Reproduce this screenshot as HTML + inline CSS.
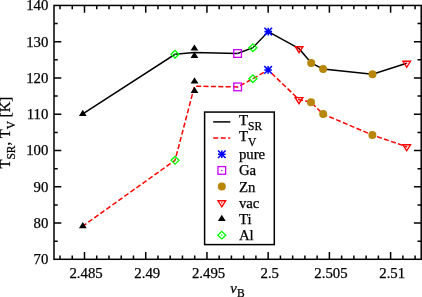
<!DOCTYPE html><html><head><meta charset="utf-8"><style>html,body{margin:0;padding:0;background:#fff;}body{width:422px;height:297px;overflow:hidden;font-family:"Liberation Serif",serif;}svg{display:block;will-change:transform;} text{stroke:#000;stroke-width:0.25px;}</style></head><body><svg width="422" height="297" viewBox="0 0 422 297">
<rect width="100%" height="100%" fill="#fff"/>
<path d="M60.00 259.30V255.60M60.00 5.45V9.15M72.24 259.30V255.60M72.24 5.45V9.15M84.49 259.30V252.00M84.49 5.45V12.75M96.73 259.30V255.60M96.73 5.45V9.15M108.98 259.30V255.60M108.98 5.45V9.15M121.22 259.30V255.60M121.22 5.45V9.15M133.47 259.30V255.60M133.47 5.45V9.15M145.72 259.30V252.00M145.72 5.45V12.75M157.96 259.30V255.60M157.96 5.45V9.15M170.20 259.30V255.60M170.20 5.45V9.15M182.45 259.30V255.60M182.45 5.45V9.15M194.69 259.30V255.60M194.69 5.45V9.15M206.94 259.30V252.00M206.94 5.45V12.75M219.18 259.30V255.60M219.18 5.45V9.15M231.43 259.30V255.60M231.43 5.45V9.15M243.68 259.30V255.60M243.68 5.45V9.15M255.92 259.30V255.60M255.92 5.45V9.15M268.16 259.30V252.00M268.16 5.45V12.75M280.41 259.30V255.60M280.41 5.45V9.15M292.65 259.30V255.60M292.65 5.45V9.15M304.90 259.30V255.60M304.90 5.45V9.15M317.14 259.30V255.60M317.14 5.45V9.15M329.39 259.30V252.00M329.39 5.45V12.75M341.64 259.30V255.60M341.64 5.45V9.15M353.88 259.30V255.60M353.88 5.45V9.15M366.12 259.30V255.60M366.12 5.45V9.15M378.37 259.30V255.60M378.37 5.45V9.15M390.61 259.30V252.00M390.61 5.45V12.75M402.86 259.30V255.60M402.86 5.45V9.15M415.10 259.30V255.60M415.10 5.45V9.15M54.00 241.17H57.70M421.20 241.17H417.50M54.00 223.04H61.30M421.20 223.04H413.90M54.00 204.90H57.70M421.20 204.90H417.50M54.00 186.77H61.30M421.20 186.77H413.90M54.00 168.64H57.70M421.20 168.64H417.50M54.00 150.51H61.30M421.20 150.51H413.90M54.00 132.38H57.70M421.20 132.38H417.50M54.00 114.24H61.30M421.20 114.24H413.90M54.00 96.11H57.70M421.20 96.11H417.50M54.00 77.98H61.30M421.20 77.98H413.90M54.00 59.85H57.70M421.20 59.85H417.50M54.00 41.72H61.30M421.20 41.72H413.90M54.00 23.58H57.70M421.20 23.58H417.50" stroke="#000" stroke-width="1.5" fill="none"/>
<rect x="54.0" y="5.45" width="367.20" height="253.85" stroke="#000" stroke-width="1.5" fill="none"/>
<g font-family="Liberation Serif" font-size="14.8" fill="#000">
<text x="48.4" y="264.10" text-anchor="end">70</text>
<text x="48.4" y="227.84" text-anchor="end">80</text>
<text x="48.4" y="191.57" text-anchor="end">90</text>
<text x="48.4" y="155.31" text-anchor="end">100</text>
<text x="48.4" y="119.04" text-anchor="end">110</text>
<text x="48.4" y="82.78" text-anchor="end">120</text>
<text x="48.4" y="46.52" text-anchor="end">130</text>
<text x="48.4" y="10.25" text-anchor="end">140</text>
<text x="86.09" y="278.3" text-anchor="middle">2.485</text>
<text x="147.32" y="278.3" text-anchor="middle">2.49</text>
<text x="208.54" y="278.3" text-anchor="middle">2.495</text>
<text x="269.76" y="278.3" text-anchor="middle">2.5</text>
<text x="330.99" y="278.3" text-anchor="middle">2.505</text>
<text x="392.21" y="278.3" text-anchor="middle">2.51</text>
</g>
<text x="230.3" y="292.6" font-family="Liberation Serif" font-size="14.8" font-style="italic">&#957;<tspan font-style="normal" font-size="11.5" dy="4.4">B</tspan></text>
<text transform="translate(10.0,168.6) rotate(-90)" font-family="Liberation Serif" font-size="14.8">T<tspan font-size="11.5" dy="4.6">SR</tspan><tspan dy="-4.6">, T</tspan><tspan font-size="11.5" dy="4.6">V</tspan><tspan dy="-4.6"> [K]</tspan></text>
<polyline points="82.80,226.10 175.05,160.30 194.50,86.20 237.65,86.90 252.90,78.75 268.10,69.90 299.00,99.60 311.00,102.30 323.20,114.10 372.40,135.00 406.70,146.75" fill="none" stroke="#f00" stroke-width="1.5" stroke-dasharray="5 2.39" stroke-dashoffset="0.6"/>
<polyline points="82.80,113.80 175.00,54.25 194.40,52.60 237.60,53.50 252.90,47.70 268.25,31.60 299.10,48.70 311.20,63.00 323.10,69.05 372.50,74.30 406.70,63.25" fill="none" stroke="#000" stroke-width="1.5"/>
<path d="M82.80 109.65L86.70 115.88L78.90 115.88Z" fill="#000"/><path d="M175.00 50.45L179.00 54.25L175.00 58.05L171.00 54.25Z" fill="none" stroke="#0f0" stroke-width="1.3"/><circle cx="175.00" cy="54.25" r="0.7" fill="#0f0"/><path d="M194.40 44.40L198.30 50.62L190.50 50.62Z" fill="#000"/><path d="M194.40 51.80L198.30 58.03L190.50 58.03Z" fill="#000"/><rect x="233.75" y="49.65" width="7.70" height="7.70" fill="none" stroke="#c0f" stroke-width="1.3"/><circle cx="237.60" cy="53.50" r="0.7" fill="#c0f"/><path d="M252.90 43.90L256.90 47.70L252.90 51.50L248.90 47.70Z" fill="none" stroke="#0f0" stroke-width="1.3"/><circle cx="252.90" cy="47.70" r="0.7" fill="#0f0"/><path d="M264.45 31.60H272.05M268.25 27.80V35.40M264.45 27.80L272.05 35.40M264.45 35.40L272.05 27.80" stroke="#00f" stroke-width="1.55" fill="none"/><path d="M299.10 52.70L302.90 46.70L295.30 46.70Z" fill="none" stroke="#f00" stroke-width="1.4"/><circle cx="299.10" cy="48.70" r="0.7" fill="#f00"/><circle cx="311.20" cy="63.00" r="4.0" fill="#b8860b"/><circle cx="323.10" cy="69.05" r="4.0" fill="#b8860b"/><circle cx="372.50" cy="74.30" r="4.0" fill="#b8860b"/><path d="M406.70 67.25L410.50 61.25L402.90 61.25Z" fill="none" stroke="#f00" stroke-width="1.4"/><circle cx="406.70" cy="63.25" r="0.7" fill="#f00"/><path d="M82.80 221.95L86.70 228.17L78.90 228.17Z" fill="#000"/><path d="M175.05 156.50L179.05 160.30L175.05 164.10L171.05 160.30Z" fill="none" stroke="#0f0" stroke-width="1.3"/><circle cx="175.05" cy="160.30" r="0.7" fill="#0f0"/><path d="M194.50 77.35L198.40 83.58L190.60 83.58Z" fill="#000"/><path d="M194.50 86.70L198.40 92.92L190.60 92.92Z" fill="#000"/><rect x="233.80" y="83.05" width="7.70" height="7.70" fill="none" stroke="#c0f" stroke-width="1.3"/><circle cx="237.65" cy="86.90" r="0.7" fill="#c0f"/><path d="M252.90 74.95L256.90 78.75L252.90 82.55L248.90 78.75Z" fill="none" stroke="#0f0" stroke-width="1.3"/><circle cx="252.90" cy="78.75" r="0.7" fill="#0f0"/><path d="M264.30 69.90H271.90M268.10 66.10V73.70M264.30 66.10L271.90 73.70M264.30 73.70L271.90 66.10" stroke="#00f" stroke-width="1.55" fill="none"/><path d="M299.00 103.60L302.80 97.60L295.20 97.60Z" fill="none" stroke="#f00" stroke-width="1.4"/><circle cx="299.00" cy="99.60" r="0.7" fill="#f00"/><circle cx="311.00" cy="102.30" r="4.0" fill="#b8860b"/><circle cx="323.20" cy="114.10" r="4.0" fill="#b8860b"/><circle cx="372.40" cy="135.00" r="4.0" fill="#b8860b"/><path d="M406.70 150.75L410.50 144.75L402.90 144.75Z" fill="none" stroke="#f00" stroke-width="1.4"/><circle cx="406.70" cy="146.75" r="0.7" fill="#f00"/>
<rect x="204.6" y="112.07" width="69.7" height="132.53" fill="#fff" stroke="#000" stroke-width="1.5"/>
<path d="M213.2 121.90H230.3" stroke="#000" stroke-width="1.5"/>
<path d="M213.2 138.08H230.3" stroke="#f00" stroke-width="1.5" stroke-dasharray="5 2.5"/>
<path d="M218.00 154.26H225.60M221.80 150.46V158.06M218.00 150.46L225.60 158.06M218.00 158.06L225.60 150.46" stroke="#00f" stroke-width="1.55" fill="none"/>
<rect x="217.95" y="166.59" width="7.70" height="7.70" fill="none" stroke="#c0f" stroke-width="1.3"/><circle cx="221.80" cy="170.44" r="0.7" fill="#c0f"/>
<circle cx="221.80" cy="186.62" r="4.0" fill="#b8860b"/>
<path d="M221.80 206.80L225.60 200.80L218.00 200.80Z" fill="none" stroke="#f00" stroke-width="1.4"/><circle cx="221.80" cy="202.80" r="0.7" fill="#f00"/>
<path d="M221.80 214.83L225.70 221.06L217.90 221.06Z" fill="#000"/>
<path d="M221.80 231.36L225.80 235.16L221.80 238.96L217.80 235.16Z" fill="none" stroke="#0f0" stroke-width="1.3"/><circle cx="221.80" cy="235.16" r="0.7" fill="#0f0"/>
<g font-family="Liberation Serif" font-size="14.8" fill="#000">
<text x="239.0" y="124.9">T<tspan font-size="11.5" dy="4.6">SR</tspan></text>
<text x="239.0" y="141.1">T<tspan font-size="11.5" dy="4.6">V</tspan></text>
<text x="238.9" y="159.26">pure</text>
<text x="238.9" y="175.44">Ga</text>
<text x="238.9" y="191.62">Zn</text>
<text x="238.9" y="207.80">vac</text>
<text x="238.9" y="223.98">Ti</text>
<text x="238.9" y="240.16">Al</text>
</g>
</svg></body></html>
